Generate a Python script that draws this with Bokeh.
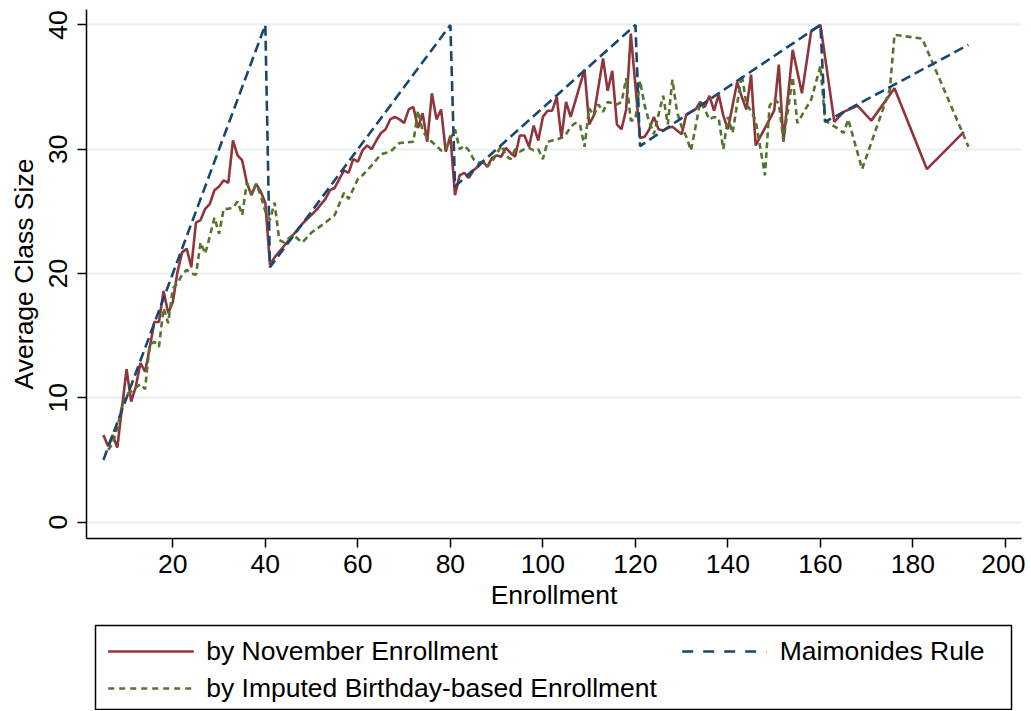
from bokeh.plotting import figure
from bokeh.models import Range1d, FixedTicker
from bokeh.layouts import column
from bokeh.embed import file_html
from bokeh.resources import INLINE
from bokeh.core.properties import value

# ---------------- data ----------------
nov_x = [5, 6, 7, 8, 10, 11, 12, 13, 14, 15, 16, 17, 18, 19, 20, 21, 22, 23, 24, 25,
         26, 27, 28, 29, 30, 31, 32, 33, 34, 35, 36, 37, 38, 39, 40, 41, 42, 48, 51, 53,
         54, 55, 57, 58, 59, 60, 61, 62, 63, 64, 65, 66, 67, 68, 69, 70, 71, 72, 73, 74,
         75, 76, 77, 78, 79, 80, 81, 82, 83, 84, 85, 86, 87, 88, 89, 90, 91, 92, 93, 94,
         95, 96, 97, 98, 99, 100, 101, 102, 103, 104, 105, 106, 109, 110, 111, 113, 114, 115, 116, 117,
         118, 119, 121, 122, 123, 124, 125, 126, 127, 128, 129, 130, 131, 132, 133, 134, 135, 136, 137, 138,
         139, 140, 142, 143, 144, 145, 146, 150, 151, 152, 154, 156, 158, 160, 163, 165, 168, 171, 176, 183,
         191]
nov_y = [7.0, 6.1, 7.0, 6.0, 12.3, 9.7, 10.9, 12.8, 12.1, 14.0, 16.1, 16.1, 18.6, 16.8, 17.7, 20.1, 21.7, 22.0, 20.5, 24.1,
         24.3, 25.2, 25.6, 26.7, 27.0, 27.5, 27.3, 30.7, 29.5, 29.1, 27.3, 26.3, 27.2, 26.6, 25.7, 20.7, 21.3, 24.0, 25.1, 26.0,
         26.7, 26.9, 28.3, 28.1, 29.2, 29.0, 29.9, 30.3, 30.0, 30.7, 31.3, 31.6, 32.4, 32.6, 32.4, 32.1, 33.2, 33.4, 31.7, 32.9,
         30.6, 34.5, 32.4, 33.2, 29.8, 31.1, 26.3, 27.9, 28.1, 27.7, 28.3, 28.6, 29.0, 28.6, 29.3, 29.5, 29.4, 30.1, 29.7, 29.4,
         31.1, 31.1, 30.2, 31.9, 30.7, 32.6, 33.1, 33.1, 34.2, 30.9, 33.8, 32.6, 36.4, 32.0, 32.7, 37.3, 34.7, 36.3, 32.0, 31.6,
         33.2, 39.3, 30.9, 31.0, 31.6, 32.6, 31.6, 31.5, 31.7, 31.8, 31.5, 31.2, 32.8, 33.0, 33.2, 33.8, 33.4, 34.3, 33.1, 34.4,
         32.7, 31.6, 35.4, 34.2, 33.2, 36.0, 30.3, 33.1, 36.8, 30.6, 38.0, 34.5, 39.5, 40.0, 32.2, 33.0, 33.5, 32.3, 34.9, 28.4,
         31.4]

imp_x = [6, 7, 8, 9, 10, 11, 12, 13, 14, 15, 16, 17, 18, 19, 20, 21, 22, 23, 24, 25,
         26, 27, 28, 29, 30, 31, 32, 33, 34, 35, 36, 37, 38, 39, 40, 41, 42, 43, 44, 46,
         48, 50, 53, 55, 57, 58, 60, 61, 63, 65, 67, 69, 72, 73, 74, 75, 76, 78, 79, 80,
         81, 82, 83, 84, 85, 86, 87, 88, 89, 90, 91, 92, 93, 94, 95, 96, 97, 98, 99, 100,
         101, 102, 103, 104, 105, 106, 107, 108, 109, 110, 111, 112, 113, 114, 115, 116, 117, 118, 119, 120,
         121, 122, 123, 124, 125, 126, 127, 128, 129, 130, 131, 132, 133, 134, 135, 136, 137, 138, 139, 140,
         141, 143, 144, 145, 146, 148, 149, 150, 151, 152, 154, 155, 158, 160, 161, 164, 165, 166, 169, 175,
         176, 182, 192]
imp_y = [5.8, 6.3, 7.6, 9.3, 10.3, 10.5, 10.8, 11.1, 10.7, 14.3, 14.5, 14.1, 17.2, 16.0, 18.8, 19.2, 19.9, 20.3, 20.0, 19.9,
         22.5, 21.6, 23.0, 24.5, 23.2, 25.2, 25.2, 25.3, 25.8, 24.7, 27.3, 26.4, 27.2, 26.3, 25.0, 24.3, 25.7, 22.7, 22.5, 23.1,
         22.5, 23.3, 24.1, 24.7, 26.5, 26.0, 27.6, 27.9, 28.7, 29.6, 29.8, 30.5, 30.6, 33.1, 31.5, 30.9, 30.6, 29.9, 30.0, 30.8,
         31.6, 30.0, 30.3, 29.9, 29.2, 28.9, 29.0, 28.6, 29.0, 29.6, 30.3, 29.5, 29.2, 30.0, 29.8, 30.0, 30.1, 29.9, 30.0, 29.2,
         30.6, 30.7, 30.8, 30.9, 31.2, 31.8, 32.1, 32.0, 30.2, 33.3, 32.7, 33.6, 33.0, 33.8, 33.7, 33.6, 33.8, 35.7, 32.3, 32.4,
         35.5, 33.5, 32.2, 31.2, 32.8, 34.3, 32.0, 35.6, 33.0, 31.8, 31.0, 29.9, 31.8, 33.8, 33.2, 32.4, 32.6, 32.5, 30.0, 32.6,
         31.3, 36.0, 33.6, 33.1, 32.3, 27.9, 33.5, 34.0, 33.7, 30.7, 35.8, 32.1, 34.0, 36.7, 32.3, 31.6, 31.3, 32.4, 28.4, 34.8,
         39.2, 38.9, 30.2]

rule_x = [5, 40, 41, 80, 81, 120, 121, 160, 161, 192]
rule_y = [5.0, 40.0, 20.5, 40.0, 27.0, 40.0, 30.25, 40.0, 32.2, 38.4]

x_ticks = [20, 40, 60, 80, 100, 120, 140, 160, 180, 200]
y_ticks = [0, 10, 20, 30, 40]

legend_labels = ["by November Enrollment", "by Imputed Birthday-based Enrollment", "Maimonides Rule"]

x_title = "Enrollment"
y_title = "Average Class Size"

# ---------------- style ----------------
FONT = "Liberation Sans"
FS = "26.5px"
RED = "#90353B"
GREEN = "#55752F"
BLUE = "#1A476F"

W = 1025
BL, BR = 86, 4          # left / right borders shared by both panels (frames aligned)
FRAME_W = W - BL - BR

p = figure(width=W, height=623,
           x_range=Range1d(1.34, 203.46), y_range=Range1d(-1.32, 41.24),
           output_backend="svg", toolbar_location=None,
           min_border_left=BL, min_border_right=BR, min_border_top=9, min_border_bottom=85)
p.outline_line_color = None
p.background_fill_color = "white"
p.border_fill_color = "white"
p.xgrid.visible = False
p.ygrid.grid_line_color = "#E8EFF2"
p.ygrid.grid_line_width = 2

p.xaxis.ticker = FixedTicker(ticks=x_ticks)
p.yaxis.ticker = FixedTicker(ticks=y_ticks)
for ax in (p.xaxis[0], p.yaxis[0]):
    ax.axis_line_color = "black"
    ax.axis_line_width = 1.5
    ax.major_tick_line_color = "black"
    ax.major_tick_line_width = 1.5
    ax.major_tick_out = 9
    ax.major_tick_in = 0
    ax.minor_tick_line_color = None
    ax.major_label_text_font = FONT
    ax.major_label_text_font_size = FS
    ax.major_label_text_color = "black"
    ax.axis_label_text_font = FONT
    ax.axis_label_text_font_size = FS
    ax.axis_label_text_font_style = "normal"
    ax.axis_label_text_color = "black"

p.xaxis.axis_label = x_title
p.yaxis.axis_label = y_title
p.xaxis.major_label_standoff = 7
p.xaxis.axis_label_standoff = 4
p.yaxis.major_label_orientation = "vertical"
p.yaxis.major_label_standoff = 10
p.yaxis.axis_label_standoff = 8

p.line(nov_x, nov_y, line_color=RED, line_width=2.6)
p.line(imp_x, imp_y, line_color=GREEN, line_width=2.6, line_dash="6 4")
p.line(rule_x, rule_y, line_color=BLUE, line_width=2.6, line_dash="10 5")

# ---------------- legend panel (page-pixel coordinates) ----------------
LEG_TOP, LEG_H = 623, 87
leg = figure(width=W, height=LEG_H,
             x_range=Range1d(BL, BL + FRAME_W), y_range=Range1d(LEG_TOP + LEG_H, LEG_TOP),
             output_backend="svg", toolbar_location=None,
             x_axis_type=None, y_axis_type=None,
             min_border_left=BL, min_border_right=BR,
             min_border_top=0, min_border_bottom=0)
leg.grid.visible = False
leg.outline_line_color = None
leg.background_fill_color = "white"
leg.border_fill_color = "white"

leg.quad(left=[95], right=[1011], top=[625], bottom=[709],
         fill_color=None, line_color="black", line_width=1.5)
leg.line([107.7, 193.3], [651, 651], line_color=RED, line_width=2.6)
leg.line([107.7, 193.3], [688, 688], line_color=GREEN, line_width=2.6, line_dash="6 5")
leg.line([681.7, 766.0], [651, 651], line_color=BLUE, line_width=2.6, line_dash="11 10")
leg.text(x=[205.7, 205.7, 779.3], y=[650, 687, 650], text=legend_labels,
         text_font=value(FONT), text_font_size=FS, text_color="black",
         text_align="left", text_baseline="middle")

layout = column(p, leg, spacing=0)
open("out.html", "w").write(file_html(layout, INLINE))
